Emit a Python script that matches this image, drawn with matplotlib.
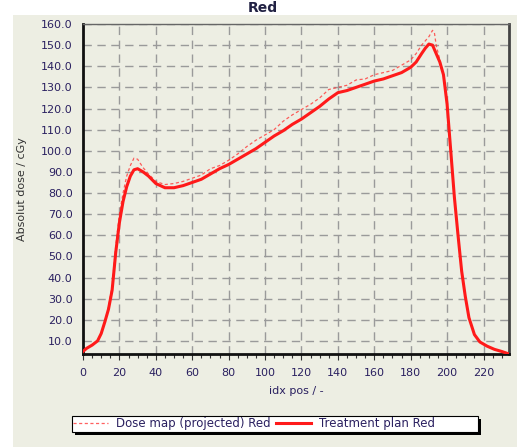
import matplotlib
matplotlib.use("Agg")
import matplotlib.pyplot as plt
from matplotlib.patches import Rectangle
from matplotlib.ticker import MultipleLocator

plan_x = [0, 2, 5, 8, 10, 12, 14, 16, 18, 20, 22, 24, 26, 28, 30, 33, 36, 40, 45, 50,
          55, 60, 65, 70, 75, 80, 85, 90, 95, 100, 105, 110, 115, 120, 125, 130, 135,
          140, 145, 150, 155, 160, 165, 170, 175, 180, 183, 186, 188, 190, 192, 194,
          196, 198, 200, 202, 204, 206, 208, 210, 212, 215, 218, 222, 226, 230, 234]
plan_y = [5.0, 6.5, 8.0, 10.0, 13.5, 19, 25, 34, 52, 66, 76, 83, 88, 91, 91.5, 90, 88,
          84.5, 82.5, 82.5, 83.5, 85.0, 86.5, 89, 91.5, 93.5, 96, 98.5, 101, 104, 107,
          109.5, 112.5, 115, 118, 121, 124.5, 127.5, 128.5, 130, 131.5, 133, 134, 135.5,
          137, 139.5, 142, 146, 148.5, 150.5, 150, 146, 142, 136, 122, 100, 78, 60, 43,
          31, 21, 13, 9.5, 7.5, 6, 5, 3.8]

map_x = [0, 2, 5, 8, 10, 12, 14, 16, 18, 20, 22, 24, 26, 28, 30, 33, 36, 40, 45, 50,
         55, 60, 65, 70, 75, 80, 85, 90, 95, 100, 105, 110, 115, 120, 125, 130, 135,
         140, 145, 150, 155, 160, 165, 170, 175, 180, 183, 186, 188, 190, 192, 193,
         194, 196, 198, 200, 202, 204, 206, 208, 210, 212, 215, 218, 222, 226, 230, 234]
map_y = [5.0, 6.5, 8, 10, 13.5, 19, 26, 36, 55, 70, 80, 88, 93, 96.5, 96, 92, 89, 85.5,
         84, 84.5, 85.5, 87, 88.5, 91.5, 93, 95.5, 98.5, 102, 105, 107.5, 110, 114, 117,
         119.5, 122, 125, 129, 130, 131, 133.5, 134, 136, 137, 138, 140.5, 143, 146, 150,
         152, 154, 157, 156, 150, 143, 136, 122, 100, 78, 60, 43, 31, 21, 13, 9.5, 7.5,
         6, 5, 3.8]

x_ticks = list(range(0, 221, 20))
y_ticks = list(range(10, 161, 10))

W, H = 525, 447
fig = plt.figure(figsize=(W / 100, H / 100), dpi=100, facecolor="white")
bg = "#EDEEE3"
fig.patches.append(Rectangle((13 / W, 0), (517 - 13) / W, (H - 15) / H,
                             transform=fig.transFigure, facecolor=bg,
                             edgecolor="none", zorder=-10))

ax = fig.add_axes([83 / W, (H - 354) / H, (509 - 83) / W, (354 - 24) / H])
ax.set_facecolor(bg)

txt_col = "#2a2060"
ax.plot(map_x, map_y, color="#ff3838", lw=0.9, ls=(0, (2.5, 2)), alpha=0.8,
        label="Dose map (projected) Red", zorder=3)
ax.plot(plan_x, plan_y, color="#ff1a1a", lw=2.2, label="Treatment plan Red", zorder=4)

ax.set_xlim(0, 234)
ax.set_ylim(3.8, 160)
ax.set_xticks(x_ticks)
ax.set_yticks(y_ticks)
ax.set_yticklabels([f"{v:.1f}" for v in y_ticks])
ax.xaxis.set_minor_locator(MultipleLocator(5))
ax.tick_params(axis="x", which="major", labelsize=8, labelcolor=txt_col,
               length=4, width=0.8, color="#333333", pad=6)
ax.tick_params(axis="y", which="major", labelsize=8, labelcolor=txt_col,
               length=0, pad=7.5)
ax.tick_params(axis="x", which="minor", length=3, width=0.8, color="#333333")

ax.grid(True, which="major", color="#9a9a9a", lw=1.0, ls=(0, (6, 4)))
ax.set_axisbelow(True)

for s in ["left", "bottom"]:
    ax.spines[s].set_linewidth(2.0)
    ax.spines[s].set_color("#111111")
ax.spines["right"].set_linewidth(2.0)
ax.spines["right"].set_color("#444444")
ax.spines["top"].set_linewidth(1.0)
ax.spines["top"].set_color("#666666")

ax.set_xlabel("idx pos / -", fontsize=8, color=txt_col, labelpad=6)
ax.set_ylabel("Absolut dose / cGy", fontsize=8, color="#333333", labelpad=10)

fig.text(263 / W, (H - 12) / H, "Red", ha="center", va="baseline",
         fontsize=10, fontweight="bold", color="#222244")

# legend frame with hard black shadow
lx0, lx1, ly0, ly1 = 72, 478, 416, 432
fig.patches.append(Rectangle(((lx0 + 3) / W, (H - ly1 - 3) / H), (lx1 - lx0) / W,
                             (ly1 - ly0) / H, transform=fig.transFigure,
                             facecolor="black", edgecolor="none", zorder=1))
fig.patches.append(Rectangle((lx0 / W, (H - ly1) / H), (lx1 - lx0) / W,
                             (ly1 - ly0) / H, transform=fig.transFigure,
                             facecolor="white", edgecolor="black", lw=0.8, zorder=2))

leg = fig.legend(loc="center left", bbox_to_anchor=(73 / W, (H - 424) / H), ncol=2,
                 fontsize=8.5, frameon=False, handlelength=3.0,
                 columnspacing=0.5, handletextpad=0.6, borderpad=0.0,
                 borderaxespad=0.0)
leg.set_zorder(5)
for t in leg.get_texts():
    t.set_color(txt_col)

fig.savefig("out.png", dpi=100, facecolor=fig.get_facecolor())
